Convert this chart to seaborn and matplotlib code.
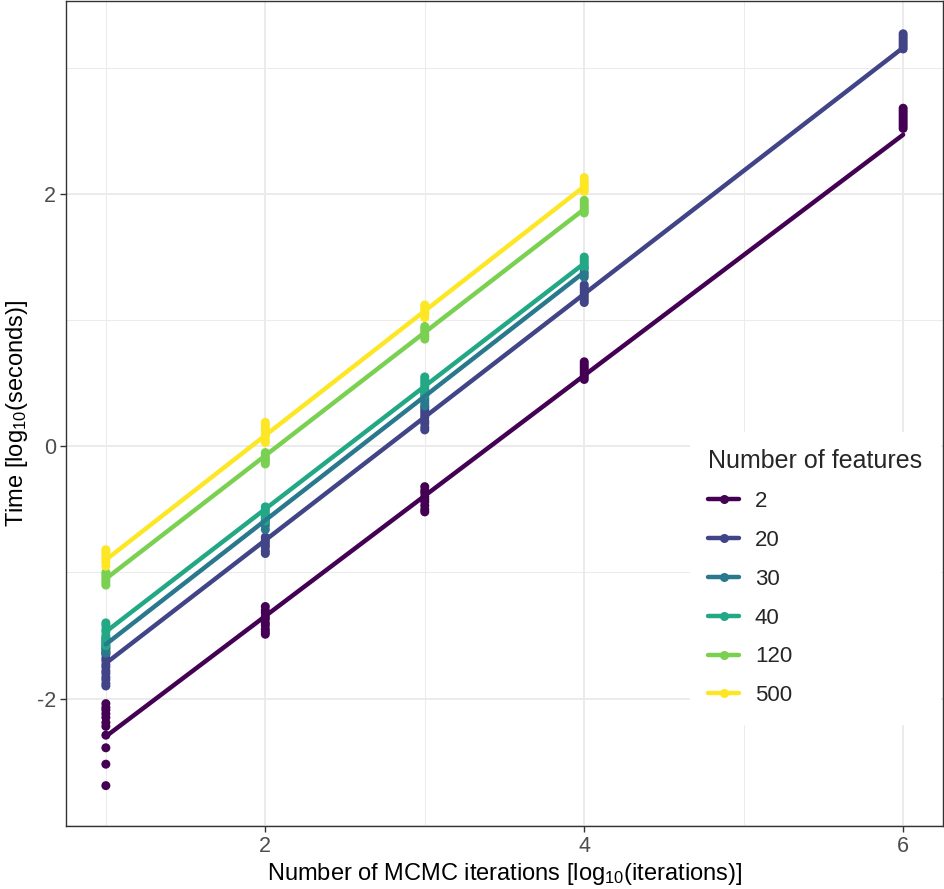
import numpy as np
import pandas as pd
import matplotlib
matplotlib.use("Agg")
import matplotlib.pyplot as plt
from matplotlib.lines import Line2D
import seaborn as sns

# data: log10(time) replicates per feature count and log10(iterations)
FEATURES = ["2", "20", "30", "40", "120", "500"]
COLORS = ["#440154", "#414487", "#2A788E", "#22A884", "#7AD151", "#FDE725"]

f2_x1 = [-2.04, -2.07, -2.09, -2.12, -2.15, -2.19, -2.22, -2.29, -2.39, -2.52, -2.69]
f2_x2 = [-1.27, -1.30, -1.32, -1.35, -1.37, -1.40, -1.42, -1.45, -1.47, -1.49]
f2_x3 = [-0.32, -0.35, -0.37, -0.40, -0.42, -0.44, -0.47, -0.50, -0.52]
f2_x4 = [0.53, 0.55, 0.57, 0.59, 0.61, 0.63, 0.65, 0.67]
f2_x6 = [2.52, 2.54, 2.56, 2.58, 2.60, 2.62, 2.64, 2.66, 2.68]

f20_x1 = [-1.60, -1.63, -1.65, -1.68, -1.70, -1.73, -1.75, -1.78, -1.80,
          -1.83, -1.85, -1.88, -1.90]
f20_x2 = [-0.72, -0.74, -0.76, -0.78, -0.80, -0.83, -0.85]
f20_x3 = [0.13, 0.15, 0.18, 0.20, 0.23, 0.25, 0.27, 0.29, 0.31]
f20_x4 = [1.14, 1.16, 1.18, 1.20, 1.22, 1.24, 1.26, 1.28]
f20_x6 = [3.15, 3.17, 3.19, 3.21, 3.23, 3.25, 3.27]

f30_x1 = [-1.52, -1.54, -1.56, -1.58, -1.60, -1.62, -1.64]
f30_x2 = [-0.55, -0.57, -0.59, -0.61, -0.63, -0.66]
f30_x3 = [0.32, 0.34, 0.36, 0.38, 0.40, 0.43]
f30_x4 = [1.34, 1.36, 1.38, 1.41]

f40_x1 = [-1.40, -1.42, -1.45, -1.47, -1.50, -1.52, -1.55, -1.58]
f40_x2 = [-0.48, -0.50, -0.52, -0.54, -0.56, -0.59]
f40_x3 = [0.41, 0.43, 0.45, 0.47, 0.49, 0.51, 0.53, 0.55]
f40_x4 = [1.42, 1.44, 1.46, 1.48, 1.50]

f120_x1 = [-1.00, -1.02, -1.04, -1.06, -1.08, -1.10]
f120_x2 = [-0.05, -0.07, -0.09, -0.11, -0.12, -0.14]
f120_x3 = [0.85, 0.87, 0.89, 0.91, 0.93, 0.95]
f120_x4 = [1.85, 1.87, 1.89, 1.91, 1.93, 1.95]

f500_x1 = [-0.82, -0.84, -0.86, -0.88, -0.90, -0.92, -0.95]
f500_x2 = [0.03, 0.05, 0.08, 0.10, 0.13, 0.15, 0.17, 0.19]
f500_x3 = [1.02, 1.04, 1.06, 1.08, 1.10, 1.12]
f500_x4 = [2.02, 2.04, 2.06, 2.08, 2.10, 2.13]

# fitted (lm) lines: start/end x and y per feature count
fit_x_start = [1, 1, 1, 1, 1, 1]
fit_x_end = [6, 6, 4, 4, 4, 4]
fit_y_start = [-2.30, -1.72, -1.57, -1.47, -1.05, -0.90]
fit_y_end = [2.47, 3.16, 1.38, 1.45, 1.88, 2.06]

groups = {
    "2": {1: f2_x1, 2: f2_x2, 3: f2_x3, 4: f2_x4, 6: f2_x6},
    "20": {1: f20_x1, 2: f20_x2, 3: f20_x3, 4: f20_x4, 6: f20_x6},
    "30": {1: f30_x1, 2: f30_x2, 3: f30_x3, 4: f30_x4},
    "40": {1: f40_x1, 2: f40_x2, 3: f40_x3, 4: f40_x4},
    "120": {1: f120_x1, 2: f120_x2, 3: f120_x3, 4: f120_x4},
    "500": {1: f500_x1, 2: f500_x2, 3: f500_x3, 4: f500_x4},
}

rows = []
for feat, cells in groups.items():
    for it, vals in cells.items():
        for v in vals:
            rows.append({"features": feat, "iterations": it, "time": v})
pts = pd.DataFrame(rows)

fits = pd.DataFrame({
    "features": FEATURES * 2,
    "iterations": fit_x_start + fit_x_end,
    "time": fit_y_start + fit_y_end,
})

#  Plot style (ggplot theme_bw look)
sns.set_theme(style="white")
plt.rcParams["font.family"] = ["Liberation Sans", "DejaVu Sans"]
plt.rcParams["mathtext.default"] = "regular"
plt.rcParams["axes.unicode_minus"] = False

palette = dict(zip(FEATURES, COLORS))

fig = plt.figure(figsize=(9.44, 8.89), dpi=100)
ax = fig.add_axes([66 / 944, 63 / 889, 877 / 944, 825 / 889])

sns.scatterplot(data=pts, x="iterations", y="time", hue="features",
                hue_order=FEATURES, palette=palette, s=42, linewidth=0,
                legend=False, ax=ax, zorder=3)
sns.lineplot(data=fits, x="iterations", y="time", hue="features",
             hue_order=FEATURES, palette=palette, linewidth=3.2,
             legend=False, ax=ax, zorder=4, estimator=None)

ax.set_xlim(0.75, 6.25)
ax.set_ylim(-3.01, 3.53)
ax.set_xticks([2, 4, 6])
ax.set_yticks([-2, 0, 2])
ax.set_xticks([1, 3, 5], minor=True)
ax.set_yticks([-3, -1, 1, 3], minor=True)
ax.grid(which="major", color="#EBEBEB", linewidth=1.4)
ax.grid(which="minor", color="#EBEBEB", linewidth=0.75)
ax.set_axisbelow(True)
for s in ax.spines.values():
    s.set_color("#333333")
    s.set_linewidth(1.0)
ax.tick_params(which="major", direction="out", length=4, width=1,
               color="#333333", labelcolor="#4D4D4D", labelsize=15.5,
               bottom=True, left=True, pad=3)
ax.tick_params(which="minor", length=0)

ax.set_xlabel("Number of MCMC iterations [log$_{10}$(iterations)]",
              fontsize=17, color="black", labelpad=3)
ax.set_ylabel("Time [log$_{10}$(seconds)]", fontsize=17, color="black",
              labelpad=5)

handles = [Line2D([0], [0], color=c, linewidth=3.2, marker="o",
                  markersize=6.5, markeredgewidth=0) for c in COLORS]
leg = ax.legend(handles, FEATURES, title="Number of features",
                loc="upper left", bbox_to_anchor=(0.712, 0.478),
                frameon=True, fancybox=False, fontsize=16,
                title_fontsize=18, handlelength=1.4, handletextpad=0.7,
                labelspacing=0.8, borderpad=0.8, borderaxespad=0)
leg._legend_box.align = "left"
leg.get_frame().set_facecolor("white")
leg.get_frame().set_edgecolor("white")
leg.get_frame().set_alpha(1)

fig.savefig("out.png", dpi=100)
